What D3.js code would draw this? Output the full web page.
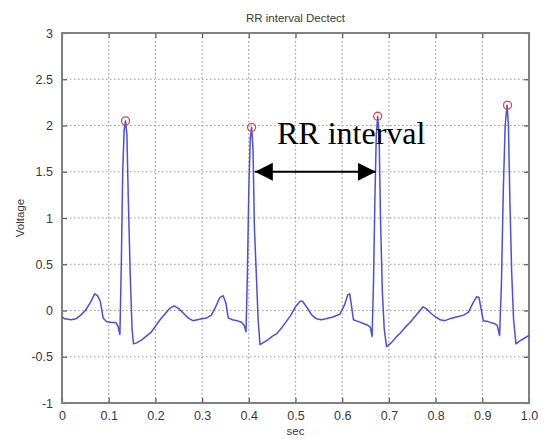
<!DOCTYPE html>
<html>
<head>
<meta charset="utf-8">
<script src="https://cdn.jsdelivr.net/npm/d3@7"></script>
<style>
  html, body { margin: 0; padding: 0; background: #fff; }
  svg { display: block; }
</style>
</head>
<body>
<svg id="chart" width="544" height="439"></svg>
<script>
// ---- data ----
const ecgTime = [
  0.000, 0.006, 0.020, 0.030, 0.040, 0.050, 0.060, 0.070, 0.076, 0.082,
  0.088, 0.095, 0.105, 0.115, 0.120, 0.124, 0.127, 0.130, 0.133, 0.136,
  0.139, 0.142, 0.146, 0.150, 0.153, 0.160, 0.170, 0.180, 0.190, 0.200,
  0.210, 0.220, 0.230, 0.240, 0.250, 0.260, 0.270, 0.280, 0.290, 0.300,
  0.310, 0.320, 0.330, 0.338, 0.345, 0.351, 0.356, 0.365, 0.375, 0.385,
  0.390, 0.394, 0.397, 0.400, 0.403, 0.406, 0.409, 0.412, 0.416, 0.420,
  0.424, 0.430, 0.440, 0.450, 0.460, 0.470, 0.480, 0.490, 0.500, 0.510,
  0.515, 0.525, 0.535, 0.545, 0.555, 0.565, 0.580, 0.595, 0.605, 0.612,
  0.616, 0.620, 0.624, 0.635, 0.645, 0.655, 0.660, 0.664, 0.667, 0.670,
  0.673, 0.676, 0.679, 0.682, 0.686, 0.690, 0.695, 0.705, 0.715, 0.725,
  0.735, 0.745, 0.755, 0.765, 0.773, 0.780, 0.790, 0.800, 0.810, 0.820,
  0.830, 0.845, 0.860, 0.870, 0.880, 0.888, 0.893, 0.898, 0.902, 0.912,
  0.925, 0.932, 0.937, 0.941, 0.945, 0.949, 0.953, 0.956, 0.959, 0.963,
  0.967, 0.972, 0.980, 0.990, 1.000
];
const ecgVoltage = [
  -0.07, -0.09, -0.10, -0.09, -0.05, 0.00, 0.08, 0.18, 0.16, 0.10,
  -0.08, -0.12, -0.13, -0.13, -0.17, -0.26, 0.50, 1.50, 1.95, 2.05,
  1.90, 1.20, 0.40, -0.20, -0.36, -0.35, -0.32, -0.28, -0.24, -0.17,
  -0.10, -0.04, 0.02, 0.05, 0.02, -0.03, -0.08, -0.11, -0.10, -0.09,
  -0.08, -0.05, 0.05, 0.14, 0.16, 0.08, -0.08, -0.10, -0.11, -0.13,
  -0.16, -0.23, 0.40, 1.30, 1.85, 1.98, 1.75, 0.90, 0.40, -0.10,
  -0.37, -0.35, -0.32, -0.28, -0.25, -0.19, -0.12, -0.05, 0.04, 0.10,
  0.10, 0.03, -0.05, -0.09, -0.10, -0.09, -0.07, -0.04, 0.06, 0.17,
  0.18, 0.05, -0.10, -0.12, -0.14, -0.16, -0.18, -0.28, 0.30, 1.20,
  1.90, 2.10, 1.90, 1.00, 0.20, -0.20, -0.39, -0.35, -0.29, -0.24,
  -0.18, -0.13, -0.07, -0.01, 0.04, 0.02, -0.03, -0.07, -0.10, -0.11,
  -0.09, -0.07, -0.05, -0.02, 0.08, 0.15, 0.14, 0.00, -0.11, -0.12,
  -0.14, -0.16, -0.27, 0.30, 1.30, 2.00, 2.22, 2.00, 1.20, 0.40,
  -0.10, -0.36, -0.33, -0.30, -0.27
];
const peakTime = [0.136, 0.406, 0.676, 0.954];
const peakVoltage = [2.05, 1.98, 2.10, 2.22];
const xTicks = [0, 0.1, 0.2, 0.3, 0.4, 0.5, 0.6, 0.7, 0.8, 0.9, 1.0];
const xTickLabels = ["0", "0.1", "0.2", "0.3", "0.4", "0.5", "0.6", "0.7", "0.8", "0.9", "1.0"];
const yTicks = [-1, -0.5, 0, 0.5, 1, 1.5, 2, 2.5, 3];
const yTickLabels = ["-1", "-0.5", "0", "0.5", "1", "1.5", "2", "2.5", "3"];
const titleText = "RR interval Dectect";
const xLabel = "sec";
const yLabel = "Voltage";
const annotationText = "RR interval";
const arrowFrom = [0.415, 1.5];
const arrowTo = [0.672, 1.5];

// ---- layout ----
const plotLeft = 62, plotRight = 529, plotTop = 33, plotBottom = 403;
const svg = d3.select("#chart");
const x = d3.scaleLinear().domain([0, 1]).range([plotLeft, plotRight]);
const y = d3.scaleLinear().domain([-1, 3]).range([plotBottom, plotTop]);

const font = "Arial, 'Liberation Sans', sans-serif";
const textColor = "#3a3a3a";

// grid
const grid = svg.append("g");
grid.selectAll("line.gx").data(xTicks.slice(1, -1)).join("line")
  .attr("x1", d => x(d)).attr("x2", d => x(d))
  .attr("y1", plotTop).attr("y2", plotBottom)
  .attr("stroke", "#9a9a9a").attr("stroke-width", 1.2)
  .attr("stroke-dasharray", "1.5,2.5");
grid.selectAll("line.gy").data(yTicks.slice(1, -1)).join("line")
  .attr("y1", d => y(d)).attr("y2", d => y(d))
  .attr("x1", plotLeft).attr("x2", plotRight)
  .attr("stroke", "#9a9a9a").attr("stroke-width", 1.2)
  .attr("stroke-dasharray", "1.5,2.5");

// axes (inner ticks on all sides)
const tickLen = 5;
const xAxisB = d3.axisBottom(x).tickValues(xTicks).tickSize(-tickLen).tickPadding(8)
  .tickFormat((d, i) => xTickLabels[i]);
const xAxisT = d3.axisTop(x).tickValues(xTicks).tickSize(-tickLen).tickFormat("");
const yAxisL = d3.axisLeft(y).tickValues(yTicks).tickSize(-tickLen).tickPadding(9)
  .tickFormat((d, i) => yTickLabels[i]);
const yAxisR = d3.axisRight(y).tickValues(yTicks).tickSize(-tickLen).tickFormat("");

function styleAxis(g) {
  g.select(".domain").remove();
  g.selectAll(".tick line").attr("stroke", "#555").attr("stroke-width", 1.2);
  g.selectAll(".tick text").attr("fill", textColor).style("font-family", font).style("font-size", "12.5px");
}
svg.append("g").attr("transform", `translate(0,${plotBottom})`).call(xAxisB).call(styleAxis);
svg.append("g").attr("transform", `translate(0,${plotTop})`).call(xAxisT).call(styleAxis);
svg.append("g").attr("transform", `translate(${plotLeft},0)`).call(yAxisL).call(styleAxis);
svg.append("g").attr("transform", `translate(${plotRight},0)`).call(yAxisR).call(styleAxis);

// box
svg.append("rect").attr("x", plotLeft).attr("y", plotTop)
  .attr("width", plotRight - plotLeft).attr("height", plotBottom - plotTop)
  .attr("fill", "none").attr("stroke", "#808080").attr("stroke-width", 2);

// signal
const pts = ecgTime.map((t, i) => [t, ecgVoltage[i]]);
const line = d3.line().x(d => x(d[0])).y(d => y(d[1]));
svg.append("path").datum(pts).attr("d", line)
  .attr("fill", "none").attr("stroke", "#4f4fd6").attr("stroke-width", 1.5)
  .attr("stroke-linejoin", "round");

// peaks
svg.selectAll("circle.peak").data(peakTime).join("circle")
  .attr("cx", d => x(d)).attr("cy", (d, i) => y(peakVoltage[i]))
  .attr("r", 4).attr("fill", "none").attr("stroke", "#d05050").attr("stroke-width", 1.3);

// title & labels
svg.append("text").attr("x", (plotLeft + plotRight) / 2).attr("y", 22)
  .attr("text-anchor", "middle").attr("fill", textColor)
  .style("font-family", font).style("font-size", "11.5px").text(titleText);
svg.append("text").attr("x", (plotLeft + plotRight) / 2).attr("y", 435)
  .attr("text-anchor", "middle").attr("fill", textColor)
  .style("font-family", font).style("font-size", "11.5px").text(xLabel);
svg.append("text").attr("transform", `translate(24,${(plotTop + plotBottom) / 2}) rotate(-90)`)
  .attr("text-anchor", "middle").attr("fill", textColor)
  .style("font-family", font).style("font-size", "11.5px").text(yLabel);

// annotation
svg.append("text").attr("x", 277).attr("y", 144)
  .attr("fill", "#000").style("font-family", "'Liberation Serif', 'Times New Roman', serif")
  .style("font-size", "32px").text(annotationText);

const defs = svg.append("defs");
defs.append("marker").attr("id", "ah").attr("viewBox", "0 0 10 10")
  .attr("refX", 10).attr("refY", 5).attr("markerWidth", 18).attr("markerHeight", 18)
  .attr("markerUnits", "userSpaceOnUse").attr("orient", "auto-start-reverse")
  .append("path").attr("d", "M0,0 L10,5 L0,10 Z").attr("fill", "#000");
svg.append("line")
  .attr("x1", x(arrowFrom[0]) - 1).attr("y1", y(arrowFrom[1]))
  .attr("x2", x(arrowTo[0])).attr("y2", y(arrowTo[1]))
  .attr("stroke", "#000").attr("stroke-width", 2)
  .attr("marker-start", "url(#ah)").attr("marker-end", "url(#ah)");
</script>
</body>
</html>
